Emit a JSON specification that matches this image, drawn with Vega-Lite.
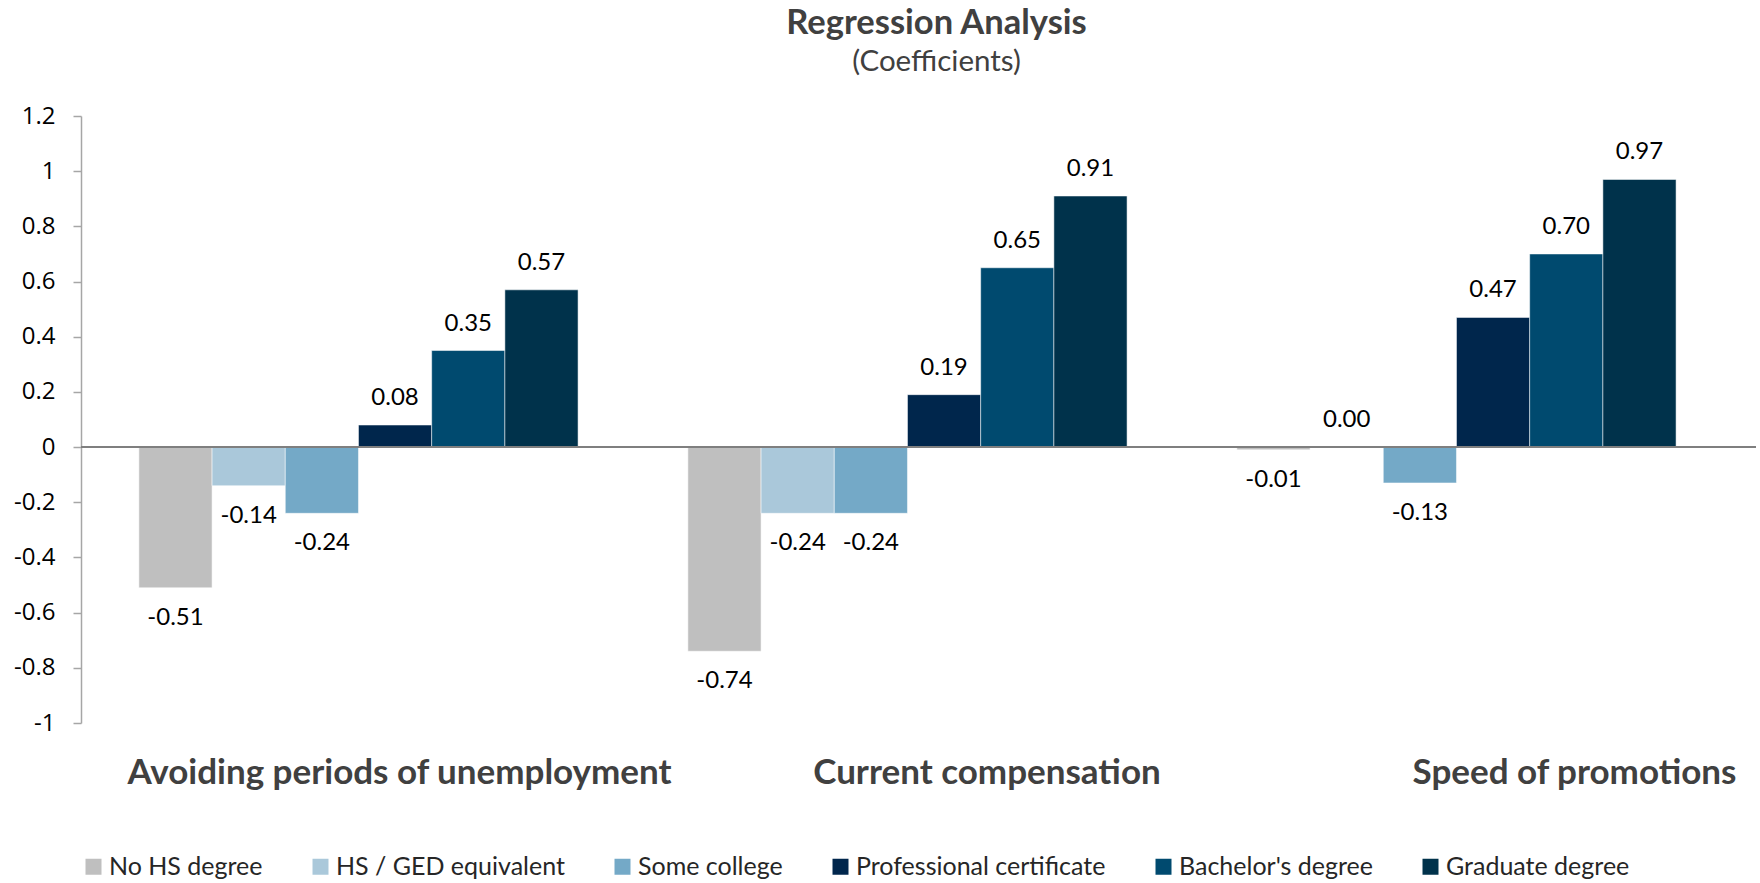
{
  "$schema": "https://vega.github.io/schema/vega-lite/v6.json",
  "autosize": {"type": "none"},
  "padding": {"left": 81, "top": 116, "right": 4, "bottom": 160},
  "width": 1675,
  "height": 607,
  "background": "white",
  "config": {
    "view": {"stroke": null},
    "locale": {"number": {"decimal": ".", "thousands": ",", "grouping": [3], "currency": ["$", ""], "minus": "-"}}
  },
  "title": {
    "text": "Regression Analysis",
    "subtitle": "(Coefficients)",
    "anchor": "middle",
    "frame": "group",
    "dx": 18,
    "offset": 27,
    "font": "Lato",
    "fontSize": 34.5,
    "fontWeight": "bold",
    "color": "#404040",
    "subtitleFont": "Lato",
    "subtitleFontSize": 29.5,
    "subtitleColor": "#404040",
    "subtitlePadding": 6
  },
  "data": {
    "values": [
      {"outcome": "Avoiding periods of unemployment", "level": "No HS degree", "value": -0.51},
      {"outcome": "Avoiding periods of unemployment", "level": "HS / GED equivalent", "value": -0.14},
      {"outcome": "Avoiding periods of unemployment", "level": "Some college", "value": -0.24},
      {"outcome": "Avoiding periods of unemployment", "level": "Professional certificate", "value": 0.08},
      {"outcome": "Avoiding periods of unemployment", "level": "Bachelor's degree", "value": 0.35},
      {"outcome": "Avoiding periods of unemployment", "level": "Graduate degree", "value": 0.57},
      {"outcome": "Current compensation", "level": "No HS degree", "value": -0.74},
      {"outcome": "Current compensation", "level": "HS / GED equivalent", "value": -0.24},
      {"outcome": "Current compensation", "level": "Some college", "value": -0.24},
      {"outcome": "Current compensation", "level": "Professional certificate", "value": 0.19},
      {"outcome": "Current compensation", "level": "Bachelor's degree", "value": 0.65},
      {"outcome": "Current compensation", "level": "Graduate degree", "value": 0.91},
      {"outcome": "Speed of promotions", "level": "No HS degree", "value": -0.01},
      {"outcome": "Speed of promotions", "level": "HS / GED equivalent", "value": 0.0},
      {"outcome": "Speed of promotions", "level": "Some college", "value": -0.13},
      {"outcome": "Speed of promotions", "level": "Professional certificate", "value": 0.47},
      {"outcome": "Speed of promotions", "level": "Bachelor's degree", "value": 0.70},
      {"outcome": "Speed of promotions", "level": "Graduate degree", "value": 0.97}
    ]
  },
  "layer": [
    {
      "mark": {"type": "bar", "stroke": "#ffffff", "strokeWidth": 1, "strokeOpacity": 0.5},
      "encoding": {
        "x": {
          "field": "outcome",
          "type": "nominal",
          "sort": null,
          "scale": {"paddingInner": 0.2, "paddingOuter": 0.1255, "align": 0.42},
          "axis": {
            "title": null,
            "orient": "bottom",
            "domain": false,
            "ticks": false,
            "labelAngle": 0,
            "labelFont": "Lato",
            "labelFontSize": 35,
            "labelFontWeight": "bold",
            "labelColor": "#404040",
            "labelBaseline": "alphabetic",
            "labelPadding": 60,
            "labelLimit": 0,
            "labelOffset": {"expr": "41 + 77 * datum.index"}
          }
        },
        "xOffset": {
          "field": "level",
          "type": "nominal",
          "sort": null,
          "scale": {"paddingInner": 0, "paddingOuter": 0}
        },
        "y": {
          "field": "value",
          "type": "quantitative",
          "scale": {"domain": [-1, 1.2], "nice": false, "zero": false},
          "axis": {
            "title": null,
            "grid": false,
            "values": [-1, -0.8, -0.6, -0.4, -0.2, 0, 0.2, 0.4, 0.6, 0.8, 1, 1.2],
            "format": "~g",
            "domainColor": "#A6A6A6",
            "domainWidth": 1.5,
            "tickColor": "#A6A6A6",
            "tickWidth": 1.5,
            "tickSize": 8,
            "labelFont": "Open Sans",
            "labelFontSize": 24,
            "labelColor": "#000000",
            "labelPadding": 18
          }
        },
        "color": {
          "field": "level",
          "type": "nominal",
          "sort": null,
          "scale": {
            "domain": ["No HS degree", "HS / GED equivalent", "Some college", "Professional certificate", "Bachelor's degree", "Graduate degree"],
            "range": ["#BFBFBF", "#AAC8DA", "#74A9C7", "#00264C", "#004A6F", "#00324B"]
          },
          "legend": {
            "title": null,
            "orient": "bottom",
            "direction": "horizontal",
            "offset": 64,
            "padding": 0,
            "symbolType": "square",
            "symbolSize": 256,
            "symbolStrokeWidth": 0,
            "labelFont": "Lato",
            "labelFontSize": 25,
            "labelColor": "#262626",
            "labelOffset": 3,
            "columnPadding": 45,
            "labelLimit": 0
          }
        }
      }
    },
    {
      "transform": [{"filter": "datum.value >= 0"}],
      "mark": {"type": "text", "font": "Lato", "fontSize": 24, "color": "#000000", "baseline": "alphabetic", "dy": -20},
      "encoding": {
        "x": {"field": "outcome", "type": "nominal", "sort": null},
        "xOffset": {"field": "level", "type": "nominal", "sort": null},
        "y": {"field": "value", "type": "quantitative"},
        "text": {"field": "value", "type": "quantitative", "format": ".2f"}
      }
    },
    {
      "transform": [{"filter": "datum.value < 0"}],
      "mark": {"type": "text", "font": "Lato", "fontSize": 24, "color": "#000000", "baseline": "alphabetic", "dy": 37},
      "encoding": {
        "x": {"field": "outcome", "type": "nominal", "sort": null},
        "xOffset": {"field": "level", "type": "nominal", "sort": null},
        "y": {"field": "value", "type": "quantitative"},
        "text": {"field": "value", "type": "quantitative", "format": ".2f"}
      }
    },
    {
      "mark": {"type": "rule", "color": "#7F7F7F", "strokeWidth": 2},
      "encoding": {
        "y": {"datum": 0}
      }
    }
  ]
}
